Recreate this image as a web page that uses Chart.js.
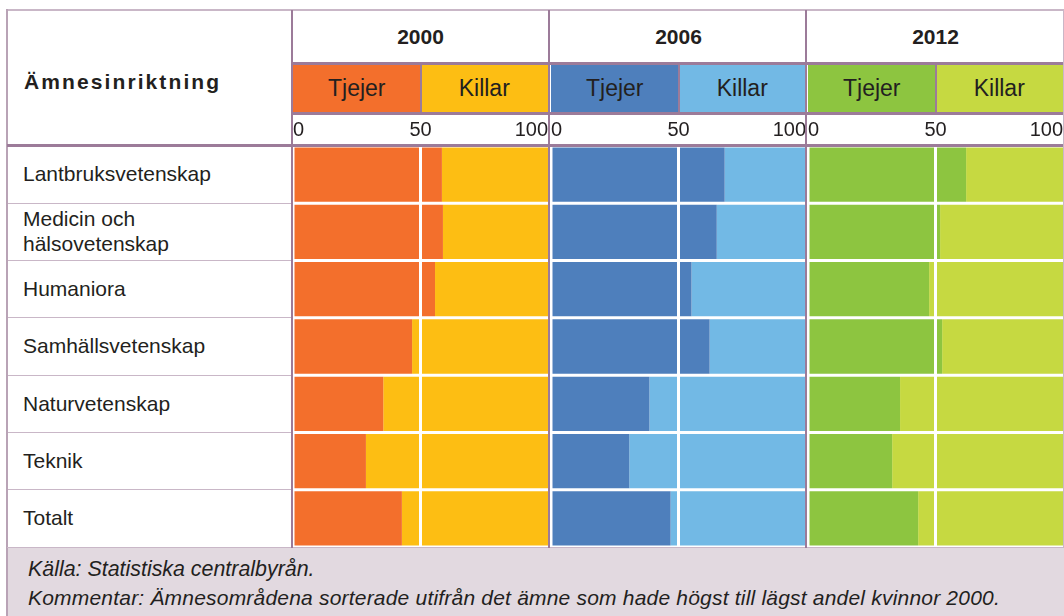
<!DOCTYPE html>
<html>
<head>
<meta charset="utf-8">
<script src="https://cdn.jsdelivr.net/npm/chart.js@4.4.1/dist/chart.umd.min.js"></script>
<style>
  html, body { margin:0; padding:0; background:#ffffff; }
  body { width:1064px; height:616px; position:relative; overflow:hidden; font-family:"Liberation Sans", Arial, sans-serif; color:#231F20; }
  .abs { position:absolute; }
  .line { position:absolute; z-index:5; }
  canvas { position:absolute; z-index:2; }
  .lbl { position:absolute; left:23px; width:265px; display:flex; align-items:center; font-size:21px; line-height:24.5px; z-index:3; }
  .yr { position:absolute; top:10px; height:53px; display:flex; align-items:center; justify-content:center; font-weight:bold; font-size:21px; z-index:3; }
  .leg { position:absolute; top:64px; height:49px; display:flex; align-items:center; justify-content:center; font-size:23px; z-index:3; }
  .ft { position:absolute; left:28px; line-height:28px; font-style:italic; z-index:3; white-space:pre; }
</style>
</head>
<body>
<script>
// ---- data ----
const categories = ['Lantbruksvetenskap', 'Medicin och\nhälsovetenskap', 'Humaniora', 'Samhällsvetenskap', 'Naturvetenskap', 'Teknik', 'Totalt'];
const years = ['2000', '2006', '2012'];
const seriesNames = ['Tjejer', 'Killar'];
const tickValues = [0, 50, 100];

const tjejer2000 = [58.4, 58.8, 55.7, 46.7, 35.4, 28.6, 42.7];
const killar2000 = [41.6, 41.2, 44.3, 53.3, 64.6, 71.4, 57.3];
const tjejer2006 = [68.1, 65.0, 55.1, 62.2, 38.6, 30.7, 46.9];
const killar2006 = [31.9, 35.0, 44.9, 37.8, 61.4, 69.3, 53.1];
const tjejer2012 = [62.0, 51.8, 47.5, 52.6, 36.1, 33.0, 43.2];
const killar2012 = [38.0, 48.2, 52.5, 47.4, 63.9, 67.0, 56.8];

const headerTitle = 'Ämnesinriktning';
const footerLines = ['Källa: Statistiska centralbyrån.', 'Kommentar: Ämnesområdena sorterade utifrån det ämne som hade högst till lägst andel kvinnor 2000.'];

// ---- layout ----
const panelColors = [['#F36F2C', '#FDBE13'], ['#4E7FBC', '#72B9E5'], ['#8DC540', '#C6D941']];
const panelLeft = [293, 551, 808];
const panelWidth = 255;
const border = '#9C7B99';
const lightBorder = '#C9B7C7';
const dataTop = 146, dataBottom = 547;

function addDiv(cls, style, text) {
  const d = document.createElement('div');
  d.className = cls;
  Object.assign(d.style, style);
  if (text !== undefined) d.textContent = text;
  document.body.appendChild(d);
  return d;
}

// footer background and text
addDiv('abs', { left:'7px', top:'547px', width:'1057px', height:'69px', background:'#E2D9E0' });
addDiv('ft', { top:'555px', fontSize:'21.4px' }, footerLines[0]);
addDiv('ft', { top:'583.5px', fontSize:'21px', letterSpacing:'0.2px' }, footerLines[1]);

// header title
addDiv('abs', { left:'24px', top:'70px', fontSize:'21px', lineHeight:'24px', fontWeight:'bold', letterSpacing:'2.1px', zIndex:3 }, headerTitle);

// category labels
const rowH = (dataBottom - dataTop) / categories.length;
categories.forEach((c, i) => {
  const d = addDiv('lbl', { top:(dataTop + i*rowH) + 'px', height: rowH + 'px' });
  d.innerHTML = c.split('\n').map(s => s.replace(/&/g,'&amp;')).join('<br>');
  if (i > 0) addDiv('line', { left:'7px', top:(dataTop + i*rowH - 0.5) + 'px', width:'285px', height:'1px', background:lightBorder });
});

// year headers and legend cells
years.forEach((y, p) => {
  const L = panelLeft[p];
  addDiv('yr', { left:L + 'px', width:panelWidth + 'px' }, y);
  const half = panelWidth / 2;
  addDiv('leg', { left:L + 'px', width:half + 'px', background:panelColors[p][0] }, seriesNames[0]);
  addDiv('leg', { left:(L + half) + 'px', width:half + 'px', background:panelColors[p][1] }, seriesNames[1]);
  addDiv('line', { left:(L + half - 1) + 'px', top:'63px', width:'2px', height:'51px', background:border });
});

// structure lines
addDiv('line', { left:'7px', top:'9px', width:'1057px', height:'2px', background:lightBorder });
addDiv('line', { left:'6px', top:'9px', width:'2px', height:'607px', background:'#B9A3B6' });
addDiv('line', { left:'292px', top:'62px', width:'772px', height:'2.5px', background:border });
addDiv('line', { left:'292px', top:'112px', width:'772px', height:'2.5px', background:border });
addDiv('line', { left:'7px', top:'144px', width:'1057px', height:'2.5px', background:border });
addDiv('line', { left:'7px', top:'547px', width:'1057px', height:'1px', background:lightBorder });
[291.3, 548.3, 805.3].forEach(x => addDiv('line', { left:x + 'px', top:'10px', width:'2.2px', height:'538px', background:border }));
addDiv('line', { left:'1063px', top:'10px', width:'1px', height:'538px', background:lightBorder });

// charts
const tj = [tjejer2000, tjejer2006, tjejer2012];
const ki = [killar2000, killar2006, killar2012];
years.forEach((y, p) => {
  const cv = document.createElement('canvas');
  cv.width = panelWidth; cv.height = dataBottom - 113;
  cv.style.left = panelLeft[p] + 'px';
  cv.style.top = '113px';
  cv.style.width = panelWidth + 'px';
  cv.style.height = (dataBottom - 113) + 'px';
  document.body.appendChild(cv);
  new Chart(cv, {
    type: 'bar',
    data: {
      labels: categories,
      datasets: [
        { label: seriesNames[0], data: tj[p], backgroundColor: panelColors[p][0], borderWidth: 0, barPercentage: 0.948, categoryPercentage: 1 },
        { label: seriesNames[1], data: ki[p], backgroundColor: panelColors[p][1], borderWidth: 0, barPercentage: 0.948, categoryPercentage: 1 }
      ]
    },
    options: {
      indexAxis: 'y',
      responsive: false,
      animation: false,
      devicePixelRatio: 1,
      layout: { padding: 0 },
      plugins: { legend: { display: false }, tooltip: { enabled: false } },
      scales: {
        x: {
          stacked: true, min: 0, max: 100, position: 'top',
          afterBuildTicks: s => { s.ticks = tickValues.map(v => ({ value: v })); },
          afterFit: s => { s.height = dataTop - 113; },
          ticks: { align: 'inner', autoSkip: false, maxRotation: 0, padding: 0, color: '#231F20',
                   font: { family: '"Liberation Sans", Arial, sans-serif', size: 20, lineHeight: 1.55 } },
          grid: { drawTicks: false, lineWidth: 3, z: 1,
                  color: ctx => (ctx.tick && ctx.tick.value === 50) ? '#ffffff' : 'rgba(0,0,0,0)' },
          border: { display: false }
        },
        y: { stacked: true, display: false }
      }
    }
  });
});
</script>
</body>
</html>
